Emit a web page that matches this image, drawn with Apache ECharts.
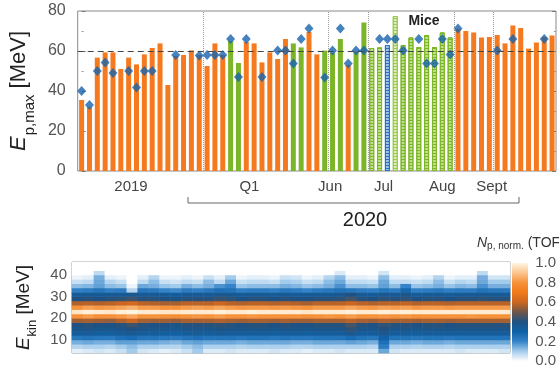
<!DOCTYPE html>
<html>
<head>
<meta charset="utf-8">
<script src="https://cdn.jsdelivr.net/npm/echarts@6.0.0/dist/echarts.min.js"></script>
<style>
  html, body { margin: 0; padding: 0; background: #fff; }
  #chart { width: 559px; height: 369px; }
</style>
</head>
<body>
<div id="chart"></div>
<script>
// max proton energy per shot day [MeV]
const epMax = [35.5, 32, 56.7, 59.3, 59.3, 51, 56.7, 53.3, 58.3, 61.5,
  63.8, 43, 57.5, 58, 60.3, 58, 52.5, 63.8, 58, 65,
  54, 64.5, 63.8, 54.3, 59.3, 56, 66, 63.8, 61.8, 69.5,
  58.3, 60.2, 59, 66, 53, 59.5, 74.3, 61.5, 61.8, 63,
  77.5, 63, 66.8, 62, 68, 62, 69.3, 66.8, 71, 70,
  69.3, 66.7, 67, 68, 63.8, 72.7, 71.5, 61.2, 64.3, 67, 67.7];
// o orange, g green, h hatched green, l light hatched, b hatched blue
const barKind = 'ooooooooooooooooooo' + 'gg' + 'oooooo' + 'gg' + 'oo' + 'ggg' + 'o' + 'gg' +
  'hh' + 'b' + 'l' + 'hhhhhhh' + 'ooooooooooooo';
// diamond markers (null = none)
const epDiamond = [40, 33, 50, 54.3, 49, null, 50, 41.7, 50, 50,
  null, null, 58, null, null, 57.7, 58, 58, 58, 66,
  47, 66, null, 47, null, 60.2, 60.2, 53.8, 66, 71.3,
  null, 46.8, 60.2, 71.3, 53.8, 60.2, 60.2, null, 66, 66,
  66, 60.2, null, 66, 53.8, 53.8, 66, 58.3, 71.3, null,
  null, null, null, 60.2, null, 66, null, null, null, 66, null];
const periodLabels = ['2019', 'Q1', 'Jun', 'Jul', 'Aug', 'Sept'];
const periodLabelAt = [6.3, 21.4, 31.7, 38.5, 46.0, 52.3];
const periodBounds = [15.5, 31.5, 36.5, 47.5, 52.5];

// E_kin spectra: 2 MeV bins from 4 to 46 MeV, normalised (percent)
const eBins = [5, 7, 9, 11, 13, 15, 17, 19, 21, 23, 25, 27, 29, 31, 33, 35, 37, 39, 41, 43, 45];
const ekinProfiles = [
  [3,8,14,24,33,38,40,55,80,97,80,57,40,34,21,12,6,2,0,0,0],
  [4,9,15,25,34,38,41,56,82,99,83,58,41,35,22,13,7,3,0,0,0],
  [5,9,14,24,32,37,40,55,79,98,81,57,40,35,24,16,15,14,7,0,0],
  [4,8,14,23,32,37,40,54,79,97,82,58,41,35,21,12,8,3,0,0,0],
  [6,10,16,26,34,38,41,57,81,99,84,60,42,35,22,11,6,2,0,0,0],
  [10,12,16,27,35,40,44,60,84,100,86,62,44,36,8,2,0,0,0,0,0],
  [5,9,15,25,33,38,41,56,80,98,82,58,41,35,24,15,7,3,0,0,0],
  [4,9,15,25,33,37,40,55,80,98,82,57,41,35,23,14,12,8,0,0,0],
  [3,8,14,24,32,37,40,55,79,97,80,56,40,34,20,11,6,2,0,0,0],
  [4,8,13,23,31,36,39,54,78,97,80,56,39,33,19,10,5,2,0,0,0],
  [6,10,15,25,33,38,41,56,80,98,82,58,41,35,22,14,7,3,0,0,0],
  [10,12,16,26,34,38,41,56,81,98,83,58,41,35,21,12,6,2,0,0,0],
  [4,9,15,25,33,38,41,56,80,98,82,58,41,35,23,14,12,6,0,0,0],
  [4,9,15,25,34,39,42,57,82,99,84,60,43,36,26,18,7,3,0,0,0],
  [5,9,15,25,33,38,41,56,80,98,82,58,42,36,25,20,15,10,0,0,0],
  [4,8,14,24,33,38,40,55,80,98,81,57,40,34,21,11,6,2,0,0,0],
  [4,9,15,25,33,38,41,56,81,99,82,58,41,35,22,12,7,3,0,0,0],
  [4,9,15,25,33,38,41,56,80,98,82,58,41,35,22,12,7,3,0,0,0],
  [5,9,15,24,32,37,40,55,80,98,81,57,40,34,21,12,6,2,0,0,0],
  [4,9,15,25,33,38,41,56,80,98,82,58,41,35,23,14,10,6,0,0,0],
  [4,8,14,24,33,38,40,55,80,98,81,57,40,34,22,13,9,5,0,0,0],
  [3,8,14,24,32,37,40,55,79,97,80,56,40,34,20,11,6,2,0,0,0],
  [4,9,15,25,33,38,41,56,80,98,82,58,41,35,22,12,7,3,0,0,0],
  [4,9,15,25,33,38,41,56,81,98,82,58,41,35,23,14,12,8,0,0,0],
  [5,9,15,25,33,38,41,56,80,98,82,58,42,36,25,18,15,12,4,0,0],
  [4,9,16,27,36,42,45,58,82,99,84,60,45,40,24,12,7,3,0,0,0],
  [4,9,15,25,33,38,41,56,80,98,82,58,41,35,22,12,7,3,0,0,0],
  [4,8,14,24,33,38,40,55,80,98,81,57,40,34,21,11,6,2,0,0,0],
  [15,22,26,30,36,40,42,57,81,99,83,58,42,36,24,16,15,12,5,0,0],
  [5,9,15,25,33,38,41,56,80,98,82,58,41,35,22,12,7,3,0,0,0],
  [4,9,15,25,33,38,41,56,81,99,83,59,42,37,28,20,7,3,0,0,0],
  [4,8,14,24,32,37,40,55,79,98,81,57,40,34,21,11,6,2,0,0,0],
  [4,9,15,25,33,38,41,56,80,98,82,58,41,35,22,12,7,3,0,0,0],
  [4,9,15,25,33,38,41,56,80,98,82,58,41,35,23,14,12,8,0,0,0],
  [4,8,14,24,33,38,40,55,80,98,81,57,40,34,21,11,6,2,0,0,0],
  [5,9,15,25,33,38,41,56,80,98,82,58,41,35,22,13,8,3,0,0,0],
  [4,9,15,25,33,38,41,56,81,98,82,58,41,35,22,12,7,3,0,0,0],
  [4,9,15,25,33,38,41,56,80,98,82,58,42,36,25,18,15,14,7,0,0],
  [4,9,15,25,33,38,41,56,80,98,82,58,41,35,23,14,10,5,0,0,0],
  [5,9,15,25,33,38,41,56,80,98,82,58,41,35,23,14,10,5,0,0,0]
];
const ekinTickLabels = [10, 20, 30, 40];
const heatTicks = [4.66, 9.86, 15.1, 20.2, 25.3, 30.4, 35.6];
const cbarLabels = [0, 0.2, 0.4, 0.6, 0.8, 1.0];

const FONT = 'Liberation Sans, Arial, sans-serif';
const hatch = c => ({ symbol: 'rect', symbolSize: 1, dashArrayX: [1, 0], dashArrayY: [1, 2], color: c });
const kindStyle = {
  o: { color: '#F57A1F' },
  g: { color: '#7CB527' },
  h: { color: '#C2E08C', borderColor: '#7DB628', borderWidth: 1, decal: hatch('#7DB628') },
  l: { color: '#DDEEBE', borderColor: '#98C850', borderWidth: 1, decal: hatch('#98C850') },
  b: { color: '#9CC4EA', borderColor: '#2474C0', borderWidth: 1, decal: hatch('#2474C0') }
};

const barData = epMax.map((v, i) => ({ value: v, itemStyle: kindStyle[barKind[i]] }));
const diamondData = epDiamond.map(v => (v === null ? '-' : v));
const heatData = [];
ekinProfiles.forEach((col, c) => col.forEach((v, k) => heatData.push([c, k, v / 100])));

const chart = echarts.init(document.getElementById('chart'));
chart.setOption({
  animation: false,
  backgroundColor: '#fff',
  textStyle: { fontFamily: FONT },
  grid: [
    { left: 75, right: 3, top: 11, height: 160, show: true, borderColor: '#8a8a8a', borderWidth: 1 },
    { left: 72, top: 262, width: 438, height: 91, show: true, borderColor: '#8a8a8a', borderWidth: 1 },
    { left: 512, top: 263, width: 16, height: 98 }
  ],
  xAxis: [
    { type: 'category', gridIndex: 0, data: epMax.map((_, i) => i),
      axisLine: { show: false }, axisTick: { show: false }, axisLabel: { show: false } },
    { type: 'value', gridIndex: 0, min: -0.5, max: 60.5, position: 'bottom',
      axisLine: { show: false }, axisTick: { show: false }, splitLine: { show: false },
      axisLabel: { customValues: periodLabelAt, margin: 8, fontSize: 15, color: '#444',
        formatter: v => periodLabels[periodLabelAt.indexOf(v)] } },
    { type: 'category', gridIndex: 1, data: ekinProfiles.map((_, i) => i),
      axisLine: { show: false }, axisTick: { show: false }, axisLabel: { show: false } },
    { type: 'value', gridIndex: 1, min: 0, max: 40, position: 'bottom',
      axisLine: { show: false }, splitLine: { show: false }, axisLabel: { show: false },
      axisTick: { inside: true, length: 4, customValues: heatTicks, lineStyle: { color: '#555' } } },
    { type: 'value', gridIndex: 1, min: 0, max: 40, position: 'top',
      axisLine: { show: false }, splitLine: { show: false }, axisLabel: { show: false },
      axisTick: { inside: true, length: 4, customValues: heatTicks, lineStyle: { color: '#555' } } },
    { type: 'value', gridIndex: 2, min: 0, max: 1, show: false }
  ],
  yAxis: [
    { type: 'value', gridIndex: 0, min: 0, max: 80, interval: 20,
      axisLine: { show: false }, splitLine: { show: false },
      axisTick: { inside: true, length: 4, lineStyle: { color: '#777' } },
      minorTick: { show: true, splitNumber: 2, length: 2, lineStyle: { color: '#999' } },
      axisLabel: { fontSize: 16, color: '#555', margin: 12 },
      name: '{e|E}{s|p,max}{n| [MeV]}', nameLocation: 'middle', nameGap: 40,
      nameTextStyle: { rich: {
        e: { fontSize: 22, fontStyle: 'italic', color: '#222', lineHeight: 26, verticalAlign: 'top' },
        s: { fontSize: 15, color: '#222', lineHeight: 15, padding: [14, 0, 0, 1], verticalAlign: 'top' },
        n: { fontSize: 22, color: '#222', lineHeight: 26, verticalAlign: 'top' } } } },
    { type: 'value', gridIndex: 0, min: 0, max: 80, interval: 20, position: 'right',
      axisLine: { show: false }, splitLine: { show: false }, axisLabel: { show: false },
      axisTick: { inside: true, length: 4, lineStyle: { color: '#777' } },
      minorTick: { show: true, splitNumber: 2, length: 2, lineStyle: { color: '#999' } } },
    { type: 'category', gridIndex: 1, data: eBins,
      axisLine: { show: false }, axisTick: { show: false }, axisLabel: { show: false } },
    { type: 'value', gridIndex: 1, min: 4, max: 46, position: 'left',
      axisLine: { show: false }, splitLine: { show: false },
      axisTick: { inside: true, length: 3, customValues: ekinTickLabels, lineStyle: { color: '#777' } },
      axisLabel: { customValues: ekinTickLabels, fontSize: 15, color: '#555', margin: 5 },
      name: '{e|E}{s|kin}{n| [MeV]}', nameLocation: 'middle', nameGap: 31,
      nameTextStyle: { rich: {
        e: { fontSize: 19, fontStyle: 'italic', color: '#222', lineHeight: 22, verticalAlign: 'top' },
        s: { fontSize: 13, color: '#222', lineHeight: 13, padding: [12, 0, 0, 1], verticalAlign: 'top' },
        n: { fontSize: 19, color: '#222', lineHeight: 22, verticalAlign: 'top' } } } },
    { type: 'value', gridIndex: 2, min: 0, max: 1, position: 'right',
      axisLine: { show: false }, splitLine: { show: false }, axisTick: { show: false },
      axisLabel: { customValues: cbarLabels, fontSize: 15, color: '#555', margin: 8,
        formatter: v => v.toFixed(1) } },
    { type: 'value', gridIndex: 2, min: 0, max: 1, position: 'left',
      axisLine: { show: false }, splitLine: { show: false }, axisLabel: { show: false },
      axisTick: { inside: true, length: 3, customValues: [0.1, 0.3, 0.5, 0.7, 0.9], lineStyle: { color: '#333' } } }
  ],
  visualMap: {
    type: 'continuous', seriesIndex: 3, min: 0, max: 1, orient: 'vertical',
    left: 512, top: 263, itemWidth: 16, itemHeight: 98, padding: 0,
    calculable: false, hoverLink: false, text: null, showLabel: false,
    inRange: { color: ['#ffffff', '#a3cbeb', '#3583c8', '#0f62a8', '#1f5282', '#6e5648',
      '#cc6620', '#ef7a19', '#f6923a', '#fbc590', '#fff5e2'] }
  },
  series: [
    { type: 'bar', xAxisIndex: 0, yAxisIndex: 0, barWidth: 5, data: barData,
      markLine: { silent: true, symbol: 'none', label: { show: false },
        lineStyle: { color: '#444', type: [6, 4], width: 1.2 }, data: [{ yAxis: 60 }] } },
    { type: 'scatter', xAxisIndex: 0, yAxisIndex: 0, symbol: 'diamond', symbolSize: [9, 10],
      itemStyle: { color: '#1863AD' }, data: diamondData },
    { type: 'line', xAxisIndex: 1, yAxisIndex: 0, data: [],
      markLine: { silent: true, symbol: 'none', label: { show: false },
        lineStyle: { color: '#9a9a9a', type: 'dotted', width: 1 },
        data: periodBounds.map(v => ({ xAxis: v })) } },
    { type: 'heatmap', xAxisIndex: 2, yAxisIndex: 2, data: heatData, progressive: 0,
      emphasis: { disabled: true } }
  ],
  graphic: [
    { type: 'polyline', silent: true,
      shape: { points: [[188, 197], [188, 203], [519, 203], [519, 197]] },
      style: { stroke: '#666', fill: null, lineWidth: 1 } },
    { type: 'text', x: 365, y: 220, silent: true,
      style: { text: '2020', font: '20px ' + FONT, fill: '#222', align: 'center', verticalAlign: 'middle' } },
    { type: 'text', x: 424, y: 21, silent: true,
      style: { text: 'Mice', font: 'bold 14px ' + FONT, fill: '#222', align: 'center', verticalAlign: 'middle' } },
    { type: 'text', x: 477, y: 243, silent: true,
      style: { text: '{e|N}{s|p, norm.}{n| (TOF)}', verticalAlign: 'middle', fill: '#333',
        rich: { e: { fontSize: 14, fontStyle: 'italic', fontFamily: FONT, fill: '#333' },
                s: { fontSize: 10, fontFamily: FONT, fill: '#333', padding: [6, 0, 0, 0] },
                n: { fontSize: 14, fontFamily: FONT, fill: '#333' } } } }
  ]
});
</script>
</body>
</html>
